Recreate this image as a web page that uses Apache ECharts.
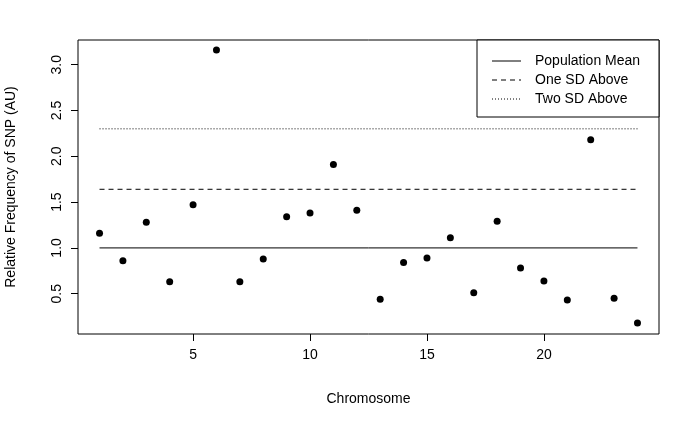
<!DOCTYPE html>
<html><head><meta charset="utf-8">
<script src="https://cdn.jsdelivr.net/npm/echarts@6/dist/echarts.min.js"></script>
<style>html,body{margin:0;background:#fff}#c{width:700px;height:432px}</style>
</head><body><div id="c"></div>
<script>
// 数据
var chromosomes = [1,2,3,4,5,6,7,8,9,10,11,12,13,14,15,16,17,18,19,20,21,22,23,24];
var freq = [1.16,0.86,1.28,0.63,1.47,3.16,0.63,0.88,1.34,1.38,1.91,1.41,0.44,0.84,0.89,1.11,0.51,1.29,0.78,0.64,0.43,2.18,0.45,0.18];
var popMean = 1.0, oneSD = 1.64, twoSD = 2.30;
var xTicks = [5,10,15,20];
var yTicks = [0.5,1.0,1.5,2.0,2.5,3.0];
var legendNames = ['Population Mean','One SD Above','Two SD Above'];

var font = 'Liberation Sans, Arial, sans-serif';
function hline(name, v, type) {
    return {
        name: name, type: 'line', symbol: 'none', silent: true,
        lineStyle: {color: '#000', width: 1, type: type, opacity: 1},
        data: [[chromosomes[0], v], [chromosomes[chromosomes.length - 1], v]]
    };
}
var chart = echarts.init(document.getElementById('c'));
chart.setOption({
    animation: false,
    grid: {left: 78, right: 41, top: 40, bottom: 98, show: true, borderColor: '#000', borderWidth: 1,
        outerBoundsMode: 'none', containLabel: false},
    xAxis: {
        type: 'value', min: 0.08, max: 24.92,
        name: 'Chromosome', nameLocation: 'middle', nameGap: 58,
        nameTextStyle: {fontFamily: font, fontSize: 14, color: '#000'},
        axisLine: {show: false}, splitLine: {show: false},
        axisTick: {show: true, length: 7, customValues: xTicks, lineStyle: {color: '#000'}},
        axisLabel: {customValues: xTicks, fontFamily: font, fontSize: 14, color: '#000', margin: 14}
    },
    yAxis: {
        type: 'value', min: 0.06, max: 3.27,
        name: 'Relative Frequency of SNP (AU)', nameLocation: 'middle', nameGap: 60,
        nameTextStyle: {fontFamily: font, fontSize: 14, color: '#000'},
        axisLine: {show: false}, splitLine: {show: false},
        axisTick: {show: true, length: 7, customValues: yTicks, lineStyle: {color: '#000'}},
        axisLabel: {customValues: yTicks, rotate: 90, fontFamily: font, fontSize: 14, color: '#000', margin: 14,
            formatter: function (v) { return v.toFixed(1); }}
    },
    series: [
        {type: 'scatter', symbolSize: 7, itemStyle: {color: '#000', opacity: 1},
         data: chromosomes.map(function (c, i) { return [c, freq[i]]; })},
        hline(legendNames[0], popMean, 'solid'),
        hline(legendNames[1], oneSD, [5, 4]),
        hline(legendNames[2], twoSD, [1, 2])
    ],
    graphic: [
        {type: 'rect', shape: {x: 477, y: 40, width: 182, height: 77}, style: {fill: '#fff', stroke: '#000', lineWidth: 1}},
        {type: 'line', shape: {x1: 492, y1: 61, x2: 521, y2: 61}, style: {stroke: '#000', lineWidth: 1}},
        {type: 'line', shape: {x1: 492, y1: 80, x2: 521, y2: 80}, style: {stroke: '#000', lineWidth: 1, lineDash: [5, 4]}},
        {type: 'line', shape: {x1: 492, y1: 99, x2: 521, y2: 99}, style: {stroke: '#000', lineWidth: 1, lineDash: [1, 2]}},
        {type: 'text', x: 535, y: 61, style: {text: legendNames[0], font: '14px ' + font, fill: '#000', verticalAlign: 'middle'}},
        {type: 'text', x: 535, y: 80, style: {text: legendNames[1], font: '14px ' + font, fill: '#000', verticalAlign: 'middle'}},
        {type: 'text', x: 535, y: 99, style: {text: legendNames[2], font: '14px ' + font, fill: '#000', verticalAlign: 'middle'}}
    ]
});
</script></body></html>
